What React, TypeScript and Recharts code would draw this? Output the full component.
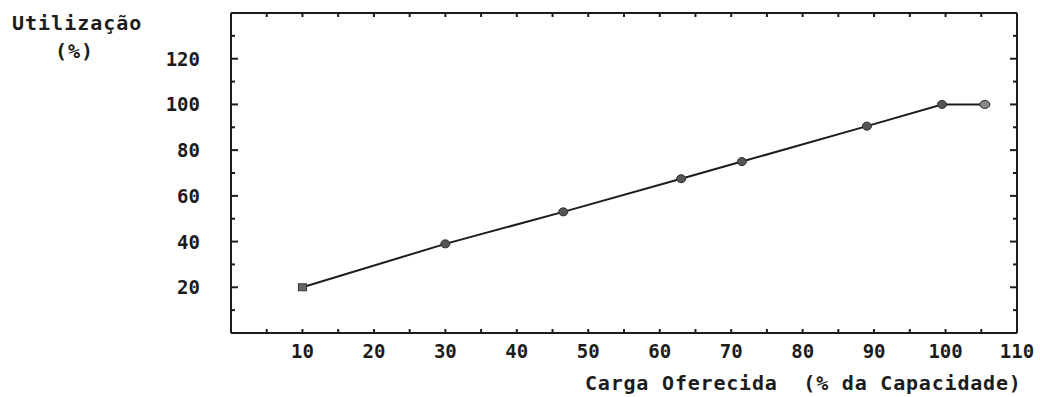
import { LineChart, Line, XAxis, YAxis } from "recharts";

// Carga oferecida (% da capacidade) x utilização (%)
const cargaOferecida = [10, 30, 46.5, 63, 71.5, 89, 99.5, 105.5];
const utilizacao = [20, 39, 53, 67.5, 75, 90.5, 100, 100];

const xTicks = [0, 5, 10, 15, 20, 25, 30, 35, 40, 45, 50, 55, 60, 65, 70, 75, 80, 85, 90, 95, 100, 105, 110];
const xLabels = [10, 20, 30, 40, 50, 60, 70, 80, 90, 100, 110];
const yTicks = [0, 10, 20, 30, 40, 50, 60, 70, 80, 90, 100, 110, 120, 130, 140];
const yLabels = [20, 40, 60, 80, 100, 120];

const data = cargaOferecida.map((x, i) => ({ x, y: utilizacao[i] }));

const INK = "#1c1c1c";
const FONT = "'DejaVu Sans Mono', monospace";

interface TickProps {
  x?: number;
  y?: number;
  payload?: { value: number };
}

function BottomTick({ x = 0, y = 0, payload }: TickProps) {
  const v = payload?.value ?? 0;
  const edge = v === 0 || v === 110;
  return (
    <g>
      {!edge && <line x1={x} x2={x} y1={y} y2={y - 4} stroke={INK} strokeWidth={2} />}
      {xLabels.includes(v) && (
        <text x={x} y={y + 25} textAnchor="middle" fontFamily={FONT} fontWeight="bold" fontSize={19} fill={INK}>
          {v}
        </text>
      )}
    </g>
  );
}

function TopTick({ x = 0, y = 0, payload }: TickProps) {
  const v = payload?.value ?? 0;
  if (v === 0 || v === 110) return <g />;
  return <line x1={x} x2={x} y1={y} y2={y + 4} stroke={INK} strokeWidth={2} />;
}

function LeftTick({ x = 0, y = 0, payload }: TickProps) {
  const v = payload?.value ?? 0;
  const edge = v === 0 || v === 140;
  return (
    <g>
      {!edge && <line x1={x} x2={x + (v % 20 === 0 ? 7 : 4)} y1={y} y2={y} stroke={INK} strokeWidth={2} />}
      {yLabels.includes(v) && (
        <text x={x - 31} y={y + 7} textAnchor="end" fontFamily={FONT} fontWeight="bold" fontSize={19} fill={INK}>
          {v}
        </text>
      )}
    </g>
  );
}

function RightTick({ x = 0, y = 0, payload }: TickProps) {
  const v = payload?.value ?? 0;
  if (v === 0 || v === 140) return <g />;
  return <line x1={x} x2={x - (v % 20 === 0 ? 7 : 4)} y1={y} y2={y} stroke={INK} strokeWidth={2} />;
}

interface DotProps {
  cx?: number;
  cy?: number;
  index?: number;
}

function Marker({ cx = 0, cy = 0, index = 0 }: DotProps) {
  if (index === 0) {
    return <rect x={cx - 4} y={cy - 3.5} width={8} height={7} fill="#666" stroke="#333" strokeWidth={1} />;
  }
  const last = index === data.length - 1;
  return (
    <ellipse cx={cx} cy={cy} rx={last ? 5 : 4.5} ry={4} fill={last ? "#888" : "#555"} stroke="#2a2a2a" strokeWidth={1} />
  );
}

const titleStyle = {
  position: "absolute" as const,
  fontFamily: FONT,
  fontWeight: "bold",
  fontSize: 20,
  lineHeight: "24px",
  color: INK,
  whiteSpace: "pre" as const,
  letterSpacing: 1,
};

export default function App() {
  return (
    <div style={{ position: "absolute", left: 0, top: 0, width: 1040, height: 397, background: "#fff" }}>
      <LineChart width={1040} height={397} data={data} margin={{ top: 12, right: 22, bottom: 0, left: 0 }}>
        <XAxis
          xAxisId="bottom"
          dataKey="x"
          type="number"
          domain={[0, 110]}
          ticks={xTicks}
          interval={0}
          height={64}
          tickSize={0}
          tickMargin={0}
          tickLine={false}
          axisLine={{ stroke: INK, strokeWidth: 2 }}
          tick={<BottomTick />}
        />
        <XAxis
          xAxisId="top"
          orientation="top"
          dataKey="x"
          type="number"
          domain={[0, 110]}
          ticks={xTicks}
          interval={0}
          height={1}
          tickSize={0}
          tickMargin={0}
          tickLine={false}
          axisLine={{ stroke: INK, strokeWidth: 2 }}
          tick={<TopTick />}
        />
        <YAxis
          yAxisId="left"
          type="number"
          domain={[0, 140]}
          ticks={yTicks}
          interval={0}
          width={231}
          tickSize={0}
          tickMargin={0}
          tickLine={false}
          axisLine={{ stroke: INK, strokeWidth: 2 }}
          tick={<LeftTick />}
        />
        <YAxis
          yAxisId="right"
          orientation="right"
          type="number"
          domain={[0, 140]}
          ticks={yTicks}
          interval={0}
          width={1}
          tickSize={0}
          tickMargin={0}
          tickLine={false}
          axisLine={{ stroke: INK, strokeWidth: 2 }}
          tick={<RightTick />}
        />
        {/* invisible copy so the top and right frame axes get a scale */}
        <Line
          xAxisId="top"
          yAxisId="right"
          dataKey="y"
          stroke="none"
          dot={false}
          activeDot={false}
          legendType="none"
          isAnimationActive={false}
        />
        <Line
          xAxisId="bottom"
          yAxisId="left"
          dataKey="y"
          type="linear"
          stroke={INK}
          strokeWidth={2}
          dot={<Marker />}
          activeDot={false}
          isAnimationActive={false}
        />
      </LineChart>
      <div style={{ ...titleStyle, left: 12, top: 11 }}>Utilização</div>
      <div style={{ ...titleStyle, left: 55, top: 39 }}>(%)</div>
      <div style={{ ...titleStyle, left: 585, top: 371, letterSpacing: 0.8 }}>{"Carga Oferecida  (% da Capacidade)"}</div>
    </div>
  );
}
